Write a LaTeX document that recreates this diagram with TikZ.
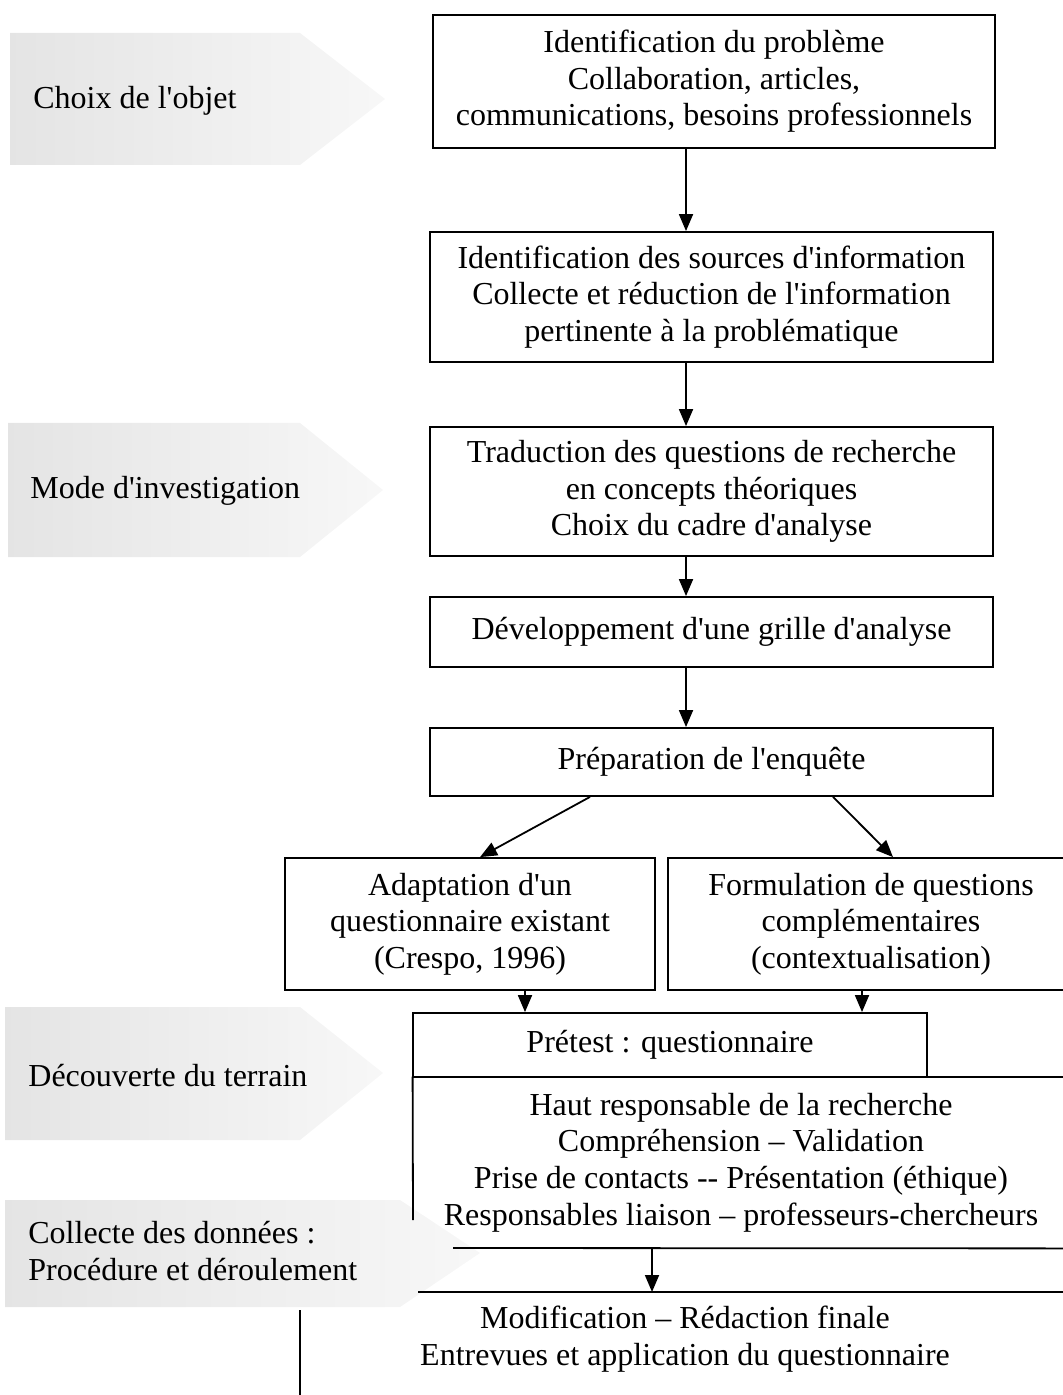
\documentclass[tikz,border=0pt]{standalone}
\usepackage{fontspec}
\setmainfont{Liberation Serif}
\usetikzlibrary{arrows.meta}
\newcommand\diagfont{\fontsize{16}{18.3}\selectfont}
\newcommand\q{\textquotesingle}
\begin{document}
\begin{tikzpicture}[x=0.5pt,y=-0.5pt,font=\diagfont,
  box/.style={draw,line width=0.9pt,inner sep=0pt,align=center},
  edge/.style={line width=0.9pt},
  arr/.style={line width=0.9pt,-{Triangle[length=8.5pt,width=7pt]}},
  banner/.style={left color=gray!21,right color=gray!6,draw=none},
  btext/.style={anchor=west,align=left,inner sep=0pt}]
\clip (0,0) rectangle (1063,1395);
% left banners
\shade[banner] (10,33) -- (300,33) -- (385,99) -- (300,165) -- (10,165) -- cycle;
\node[btext] (l1) at (33,101) {Choix de l\q objet};
\shade[banner] (8,423) -- (300,423) -- (383,490) -- (300,557) -- (8,557) -- cycle;
\node[btext] (l2) at (30,491) {Mode d\q investigation};
\shade[banner] (5,1007) -- (300,1007) -- (383,1073) -- (300,1140) -- (5,1140) -- cycle;
\node[btext] (l3) at (28,1076) {Découverte du terrain};
\shade[banner] (5,1200) -- (400,1200) -- (480,1253) -- (400,1307) -- (5,1307) -- cycle;
\node[btext] (l4) at (28,1251) {Collecte des données :\\Procédure et déroulement};
% boxes
\node[box,minimum width=281pt,minimum height=66.5pt] (b1) at (714,81.5)
  {Identification du problème\\Collaboration, articles,\\communications, besoins professionnels};
\node[box,minimum width=281.5pt,minimum height=65pt] (b2) at (711.5,297)
  {Identification des sources d\q information\\Collecte et réduction de l\q information\\pertinente à la problématique};
\node[box,minimum width=281.5pt,minimum height=64.5pt] (b3) at (711.5,491.5)
  {Traduction des questions de recherche\\en concepts théoriques\\Choix du cadre d\q analyse};
\node[box,minimum width=281.5pt,minimum height=35pt] (b4) at (711.5,632)
  {Développement d\q une grille d\q analyse};
\node[box,minimum width=281.5pt,minimum height=34pt] (b5) at (711.5,762)
  {Préparation de l\q enquête};
\node[box,minimum width=185pt,minimum height=66pt] (b6) at (470,924)
  {Adaptation d\q un\\questionnaire existant\\(Crespo, 1996)};
\node[box,minimum width=203pt,minimum height=66pt] (b7) at (871,924)
  {Formulation de questions\\complémentaires\\(contextualisation)};
\node[box,minimum width=257pt,minimum height=32pt] (pre) at (670,1045)
  {Prétest : questionnaire};
\node[inner sep=0pt,minimum width=328pt,minimum height=85.5pt,align=center] (haut) at (741,1162.5)
  {Haut responsable de la recherche\\Compréhension – Validation\\Prise de contacts -{}- Présentation (éthique)\\Responsables liaison – professeurs-chercheurs};
\coordinate (hl) at (413,1220);
\coordinate (hb) at (453,1248);
\draw[edge] (haut.north west) -- (haut.north east);
\draw[edge] (haut.north west) -- (hl);
\draw[edge] (hb) -- (haut.south east);
\coordinate (fl) at (418,1292);
\coordinate (fr) at (1070,1292);
\draw[edge] (fl) -- (fr);
\node[inner sep=0pt,align=center] (fin) at (685,1339)
  {Modification – Rédaction finale\\Entrevues et application du questionnaire};
\coordinate (vt) at (300,1310);
\coordinate (vb) at (300,1400);
\draw[edge] (vt) -- (vb);
% connectors
\coordinate (ax) at (686,0);
\draw[arr] (b1.south -| ax) -- (b2.north -| ax);
\draw[arr] (b2.south -| ax) -- (b3.north -| ax);
\draw[arr] (b3.south -| ax) -- (b4.north -| ax);
\draw[arr] (b4.south -| ax) -- (b5.north -| ax);
\coordinate (dl) at (590,0);
\coordinate (dle) at (480,0);
\draw[arr] (b5.south -| dl) -- (b6.north -| dle);
\coordinate (dr) at (833,0);
\coordinate (dre) at (893,0);
\draw[arr] (b5.south -| dr) -- (b7.north -| dre);
\coordinate (a6) at (525,0);
\draw[arr] (b6.south -| a6) -- (pre.north -| a6);
\coordinate (a7) at (862,0);
\draw[arr] (b7.south -| a7) -- (pre.north -| a7);
\coordinate (a8) at (652,0);
\draw[arr] (haut.south -| a8) -- (fl -| a8);
\end{tikzpicture}
\end{document}
